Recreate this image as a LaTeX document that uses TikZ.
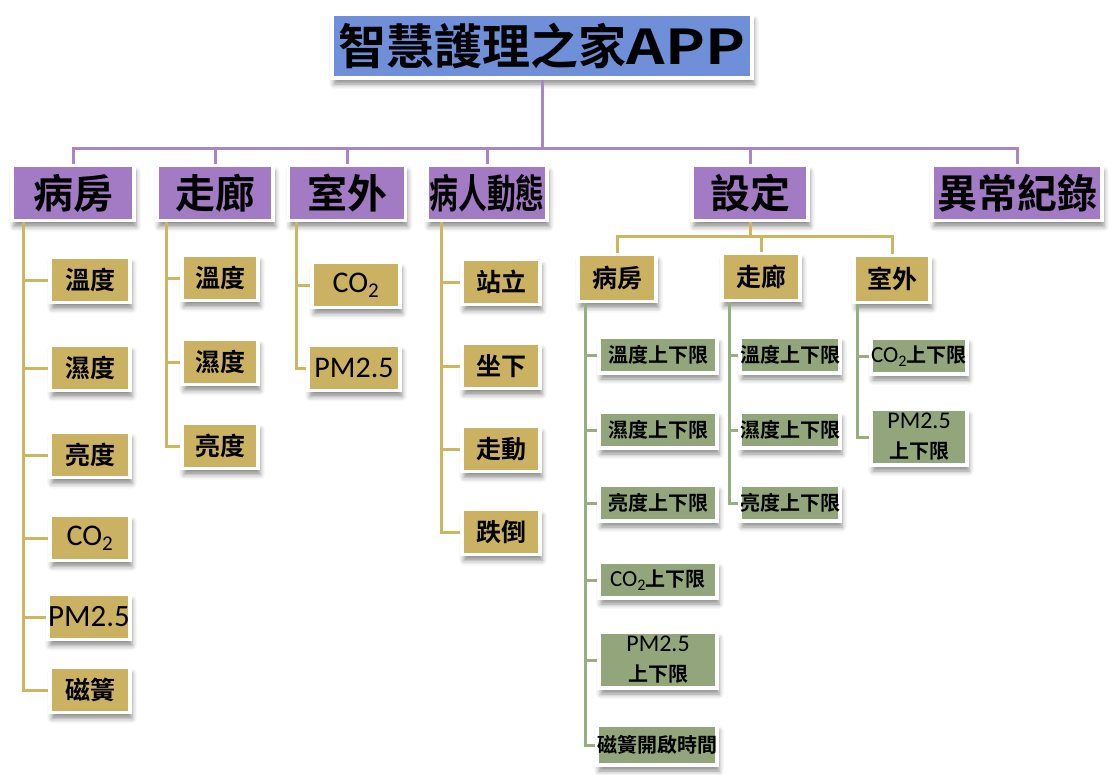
\documentclass[tikz,border=0pt]{standalone}
\usepackage{fontspec}
\usepackage{graphicx}
\setmainfont{Noto Sans CJK TC}[BoldFont={Noto Sans CJK TC Bold}]
\newfontfamily\lat{Carlito}
\usetikzlibrary{shadows.blur,calc}
\definecolor{cblue}{HTML}{6F8FD8}
\definecolor{cpurple}{HTML}{A27BC4}
\definecolor{cgold}{HTML}{CBB263}
\definecolor{cgreen}{HTML}{93A67B}
\definecolor{lpurple}{HTML}{A885C6}
\definecolor{lgold}{HTML}{CDB660}
\definecolor{lgreen}{HTML}{9AAC82}
\newcommand{\cotwo}{{\lat\mdseries CO\textsubscript{2}}}
\newcommand{\cotwosm}{{\lat\mdseries\fontsize{23}{26}\selectfont CO\textsubscript{2}}}
\begin{document}
\begin{tikzpicture}[x=1pt,y=-1pt,
  box/.style={draw=white,line width=3.5pt,inner sep=0pt,align=center,text=black,
    blur shadow={shadow xshift=2pt,shadow yshift=-6pt,shadow blur radius=5pt,shadow opacity=45}},
  titlebox/.style={box,fill=cblue,minimum width=420pt,minimum height=64pt,font=\fontsize{48}{52}\selectfont\bfseries},
  lone/.style={box,fill=cpurple,minimum height=55pt,font=\fontsize{40}{44}\selectfont\bfseries},
  ltwo/.style={box,fill=cgold,minimum height=45pt,font=\fontsize{25}{28}\selectfont\bfseries},
  lthree/.style={box,fill=cgold,minimum height=47pt,font=\fontsize{25}{28}\selectfont\bfseries},
  lfour/.style={box,fill=cgreen,minimum height=36pt,font=\fontsize{20}{30}\selectfont\bfseries},
  pline/.style={draw=lpurple,line width=3pt},
  gline/.style={draw=lgold,line width=3pt},
  grline/.style={draw=lgreen,line width=3pt}]
\useasboundingbox (0,0) rectangle (1115,774);

% title
\node[titlebox] (title) at (542,46) {智慧護理之家\scalebox{1.25}[1]{APP}};

% level one
\node[lone,minimum width=122pt] (r1) at (73,193) {病房};
\node[lone,minimum width=116pt] (r2) at (215,193) {走廊};
\node[lone,minimum width=117pt] (r3) at (347,193) {室外};
\node[lone,minimum width=120pt] (r4) at (487,193) {\scalebox{0.72}[1]{病人動態}};
\node[lone,minimum width=116pt] (r5) at (750,193) {設定};
\node[lone,minimum width=170pt] (r6) at (1017,193) {異常紀錄};

\coordinate (bar) at (542,148);
\draw[pline] (title.south) -- (bar);
\draw[pline] (r1.north) |- (bar) -| (r6.north);
\foreach \n in {r2,r3,r4,r5} \draw[pline] (\n.north) -- (\n.north |- bar);

% 病房 children
\foreach \i/\y/\t in {1/280/溫度,2/368/濕度,3/455/亮度,6/690/磁簧}
  \node[ltwo,minimum width=80pt] (a\i) at (90,\y) {\t};
\node[ltwo,minimum width=80pt,font=\fontsize{30}{34}\selectfont] (a4) at (90,538) {\cotwo};
\node[ltwo,minimum width=82pt,font=\fontsize{31}{34}\selectfont\lat] (a5) at (89,617) {PM2.5};
\coordinate (va) at ([xshift=13pt]r1.south west);
\draw[gline] (va) |- (a6.west);
\foreach \i in {1,...,5} \draw[gline] (va |- a\i.west) -- (a\i.west);

% 走廊 children
\foreach \i/\y/\t in {1/278/溫度,2/362/濕度,3/446/亮度}
  \node[ltwo,minimum width=76pt] (b\i) at (220,\y) {\t};
\coordinate (vb) at ([xshift=11pt]r2.south west);
\draw[gline] (vb) |- (b3.west);
\foreach \i in {1,2} \draw[gline] (vb |- b\i.west) -- (b\i.west);

% 室外 children
\node[ltwo,minimum width=88pt,font=\fontsize{30}{34}\selectfont] (d1) at (356,285) {\cotwo};
\node[ltwo,minimum width=92pt,font=\fontsize{30}{34}\selectfont\lat] (d2) at (354,368) {PM2.5};
\coordinate (vd) at ([xshift=10pt]r3.south west);
\draw[gline] (vd) |- (d2.west);
\draw[gline] (vd |- d1.west) -- (d1.west);

% 病人動態 children
\foreach \i/\y/\t in {1/282/站立,2/366/坐下,3/449/走動,4/532/跌倒}
  \node[ltwo,minimum width=78pt] (e\i) at (501,\y) {\t};
\coordinate (ve) at ([xshift=16pt]r4.south west);
\draw[gline] (ve) |- (e4.west);
\foreach \i in {1,2,3} \draw[gline] (ve |- e\i.west) -- (e\i.west);

% 設定 children
\node[lthree,minimum width=78pt] (s1) at (617,278) {病房};
\node[lthree,minimum width=78pt] (s2) at (761,277) {走廊};
\node[lthree,minimum width=76pt] (s3) at (892,279) {室外};
\coordinate (sbar) at ($(r5.south)+(0,14)$);
\draw[gline] (r5.south) -- (sbar);
\draw[gline] (s1.north) |- (sbar) -| (s3.north);
\draw[gline] (s2.north) -- (s2.north |- sbar);

% 設定/病房
\foreach \i/\y/\t in {1/355/溫度上下限,2/430/濕度上下限,3/503/亮度上下限,4/580/\cotwosm 上下限}
  \node[lfour,minimum width=118pt] (f\i) at (658,\y) {\t};
\node[lfour,minimum width=118pt,minimum height=56pt] (f5) at (658,660) {{\lat\mdseries\fontsize{24}{30}\selectfont PM2.5}\\上下限};
\node[lfour,minimum width=120pt,minimum height=40pt] (f6) at (657,745) {磁簧開啟時間};
\coordinate (vf) at ([xshift=9pt]s1.south west);
\draw[grline] (vf) |- (f6.west);
\foreach \i in {1,...,5} \draw[grline] (vf |- f\i.west) -- (f\i.west);

% 設定/走廊
\foreach \i/\y/\t in {1/355/溫度上下限,2/430/濕度上下限,3/503/亮度上下限}
  \node[lfour,minimum width=98pt] (h\i) at (790,\y) {\t};
\coordinate (vh) at ([xshift=9pt]s2.south west);
\draw[grline] (vh) |- (h3.west);
\foreach \i in {1,2} \draw[grline] (vh |- h\i.west) -- (h\i.west);

% 設定/室外
\node[lfour,minimum width=96pt] (k1) at (919,356) {\cotwosm 上下限};
\node[lfour,minimum width=96pt,minimum height=56pt] (k2) at (919,437) {{\lat\mdseries\fontsize{24}{30}\selectfont PM2.5}\\上下限};
\coordinate (vk) at ([xshift=5pt]s3.south west);
\draw[grline] (vk) |- (k2.west);
\draw[grline] (vk |- k1.west) -- (k1.west);
\end{tikzpicture}
\end{document}
